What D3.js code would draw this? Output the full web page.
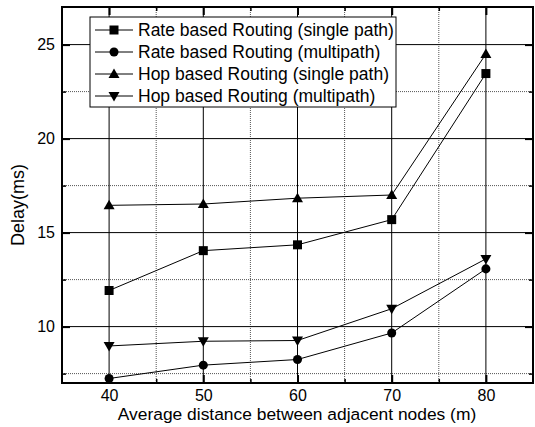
<!DOCTYPE html>
<html>
<head>
<script src="https://d3js.org/d3.v7.min.js"></script>
<style>
  body { margin: 0; background: #fff; }
  text { font-family: "Liberation Sans", Arial, sans-serif; fill: #000; }
</style>
</head>
<body>
<div id="chart"></div>
<script>
var distances = [40, 50, 60, 70, 80];
var rateSingle = [11.92, 14.04, 14.35, 15.69, 23.46];
var rateMulti = [7.24, 7.95, 8.25, 9.66, 13.07];
var hopSingle = [16.45, 16.52, 16.83, 17.0, 24.5];
var hopMulti = [8.97, 9.22, 9.26, 10.95, 13.6];
var seriesNames = ["Rate based Routing (single path)", "Rate based Routing (multipath)",
                   "Hop based Routing (single path)", "Hop based Routing (multipath)"];
var markers = ["square", "circle", "up", "down"];
var xTicks = [40, 50, 60, 70, 80];
var yTicks = [10, 15, 20, 25];

var W = 535, H = 427;
var margin = {top: 7, right: 2, bottom: 44, left: 62};

var svg = d3.select("#chart").append("svg")
  .attr("width", W).attr("height", H);

var x = d3.scaleLinear().domain([35, 85]).range([margin.left, W - margin.right]);
var y = d3.scaleLinear().domain([7, 27]).range([H - margin.bottom, margin.top]);

var minorX = [45, 55, 65, 75];
var minorY = [7.5, 12.5, 17.5, 22.5];

// grid
var grid = svg.append("g");
grid.selectAll(".mx").data(minorX).enter().append("line")
  .attr("x1", d => x(d)).attr("x2", d => x(d))
  .attr("y1", y(7)).attr("y2", y(27))
  .attr("stroke", "#555").attr("stroke-width", 1).attr("stroke-dasharray", "1,1");
grid.selectAll(".my").data(minorY).enter().append("line")
  .attr("y1", d => y(d)).attr("y2", d => y(d))
  .attr("x1", x(35)).attr("x2", x(85))
  .attr("stroke", "#555").attr("stroke-width", 1).attr("stroke-dasharray", "1,1");
grid.selectAll(".Mx").data(xTicks).enter().append("line")
  .attr("x1", d => x(d)).attr("x2", d => x(d))
  .attr("y1", y(7)).attr("y2", y(27))
  .attr("stroke", "#000").attr("stroke-width", 1);
grid.selectAll(".My").data(yTicks).enter().append("line")
  .attr("y1", d => y(d)).attr("y2", d => y(d))
  .attr("x1", x(35)).attr("x2", x(85))
  .attr("stroke", "#000").attr("stroke-width", 1);

// axes with inward ticks
function addAxis(axis, tx, ty) {
  var g = svg.append("g").attr("transform", "translate(" + tx + "," + ty + ")").call(axis);
  g.select(".domain").remove();
  g.selectAll("line").attr("stroke", "#000").attr("stroke-width", 2);
  return g;
}
var bottom = addAxis(d3.axisBottom(x).tickValues(xTicks).tickSizeInner(-8).tickPadding(7), 0, y(7));
bottom.selectAll("text").attr("font-size", 16).attr("font-family", "Liberation Sans, Arial");
var left = addAxis(d3.axisLeft(y).tickValues(yTicks).tickSizeInner(-8).tickPadding(7), x(35), 0);
left.selectAll("text").attr("font-size", 16).attr("font-family", "Liberation Sans, Arial");
addAxis(d3.axisTop(x).tickValues(xTicks).tickSizeInner(-8).tickFormat(""), 0, y(27));
addAxis(d3.axisRight(y).tickValues(yTicks).tickSizeInner(-8).tickFormat(""), x(85), 0);
// minor ticks
[addAxis(d3.axisBottom(x).tickValues(minorX).tickSizeInner(-4).tickFormat(""), 0, y(7)),
 addAxis(d3.axisTop(x).tickValues(minorX).tickSizeInner(-4).tickFormat(""), 0, y(27)),
 addAxis(d3.axisLeft(y).tickValues(minorY).tickSizeInner(-4).tickFormat(""), x(35), 0),
 addAxis(d3.axisRight(y).tickValues(minorY).tickSizeInner(-4).tickFormat(""), x(85), 0)]
 .forEach(g => g.selectAll("line").attr("stroke-width", 1.5));

// frame
svg.append("rect")
  .attr("x", x(35)).attr("y", y(27))
  .attr("width", x(85) - x(35)).attr("height", y(7) - y(27))
  .attr("fill", "none").attr("stroke", "#000").attr("stroke-width", 2);

// marker symbols
function markerPath(kind) {
  if (kind === "square") return "M-4.5,-4.5H4.5V4.5H-4.5Z";
  if (kind === "circle") return d3.symbol().type(d3.symbolCircle).size(64)();
  if (kind === "up") return "M0,-5.5L5.5,4L-5.5,4Z";
  return "M0,5.5L5.5,-4L-5.5,-4Z";
}

var allSeries = [rateSingle, rateMulti, hopSingle, hopMulti];
var line = d3.line().x((d, i) => x(distances[i])).y(d => y(d));

allSeries.forEach(function(vals, k) {
  svg.append("path").datum(vals)
    .attr("d", line).attr("fill", "none")
    .attr("stroke", "#000").attr("stroke-width", 1);
  svg.selectAll(".m" + k).data(vals).enter().append("path")
    .attr("transform", (d, i) => "translate(" + x(distances[i]) + "," + y(d) + ")")
    .attr("d", markerPath(markers[k])).attr("fill", "#000");
});

// legend
var lg = svg.append("g").attr("transform", "translate(90,17)");
lg.append("rect").attr("width", 306).attr("height", 90)
  .attr("fill", "#fff").attr("stroke", "#000").attr("stroke-width", 1);
seriesNames.forEach(function(name, k) {
  var cy = 13 + k * 22;
  lg.append("line").attr("x1", 5).attr("x2", 43).attr("y1", cy).attr("y2", cy)
    .attr("stroke", "#000").attr("stroke-width", 1);
  lg.append("path").attr("transform", "translate(24," + cy + ")")
    .attr("d", markerPath(markers[k])).attr("fill", "#000");
  lg.append("text").attr("x", 48).attr("y", cy).attr("dy", "0.36em")
    .attr("font-size", 17.5).text(name);
});

// axis titles
svg.append("text")
  .attr("x", 297).attr("y", 420)
  .attr("text-anchor", "middle").attr("font-size", 17.4)
  .text("Average distance between adjacent nodes (m)");
svg.append("text")
  .attr("transform", "translate(24,205) rotate(-90)")
  .attr("text-anchor", "middle").attr("font-size", 18)
  .text("Delay(ms)");
</script>
</body>
</html>
